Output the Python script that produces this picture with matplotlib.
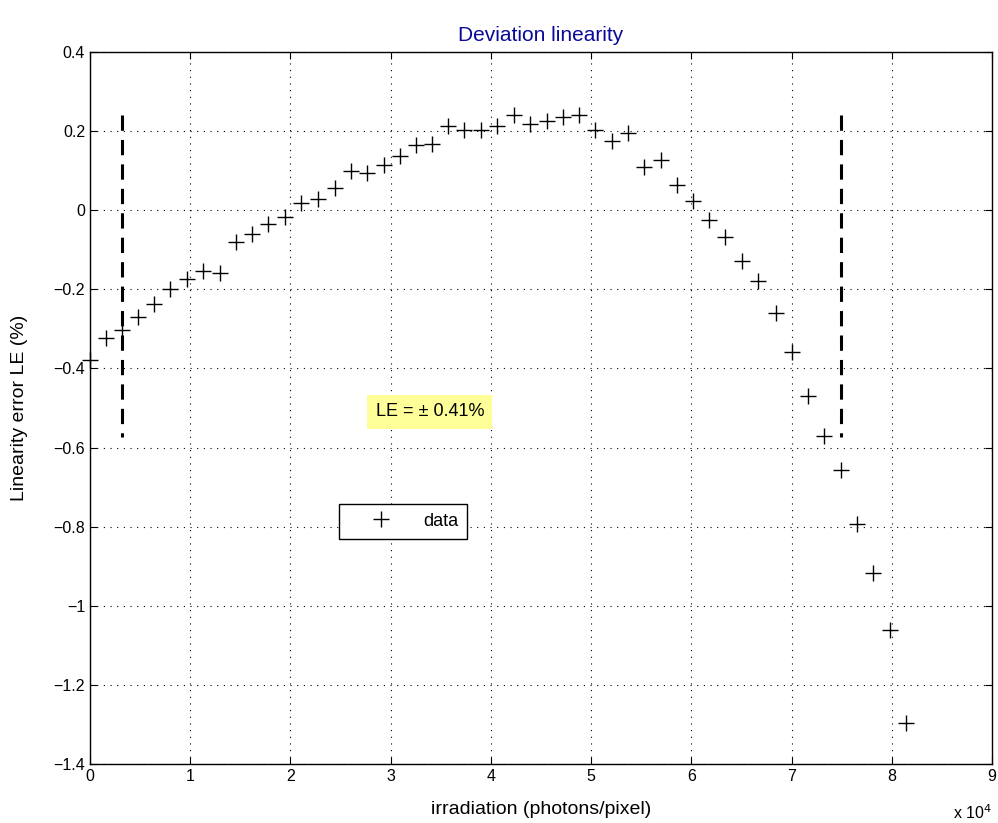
import matplotlib
matplotlib.use("Agg")
import matplotlib.pyplot as plt
from matplotlib.ticker import FuncFormatter, MultipleLocator

plt.rcParams['font.family'] = ['Liberation Sans', 'DejaVu Sans']

# irradiation (photons/pixel)
irradiation = [0, 1570, 3200, 4800, 6400, 8000, 9650, 11300, 13000, 14570,
               16170, 17800, 19460, 21100, 22700, 24400, 26000, 27600, 29300, 30900,
               32500, 34100, 35760, 37350, 39000, 40650, 42300, 43900, 45600, 47200,
               48800, 50400, 52100, 53700, 55300, 57000, 58600, 60200, 61800, 63400,
               65100, 66700, 68400, 70000, 71600, 73200, 74900, 76500, 78100, 79800,
               81400]
# linearity error (%)
lin_error = [-0.379, -0.322, -0.303, -0.269, -0.238, -0.198, -0.175, -0.154, -0.158, -0.080,
             -0.061, -0.036, -0.018, 0.019, 0.029, 0.056, 0.098, 0.094, 0.114, 0.136,
             0.164, 0.168, 0.212, 0.204, 0.204, 0.213, 0.240, 0.219, 0.226, 0.236,
             0.242, 0.204, 0.175, 0.195, 0.109, 0.128, 0.065, 0.024, -0.024, -0.067,
             -0.129, -0.178, -0.261, -0.358, -0.469, -0.571, -0.657, -0.794, -0.918, -1.061,
             -1.296]

bound_x = [3200, 74900]
bound_y = [0.24, -0.573]
le_value = 0.41

fig = plt.figure(figsize=(9.98, 8.23), dpi=100)
ax = fig.add_axes([0.0902, 0.0717, 0.9038, 0.8651])

ax.plot(irradiation, lin_error, linestyle='none', marker='+', color='black',
        markersize=12, markeredgewidth=1.0, label='data', clip_on=False, zorder=3)
for bx in bound_x:
    ax.plot([bx, bx], bound_y, color='black', linestyle=(0, (5, 3)), linewidth=2.2)

ax.set_xlim(0, 90000)
ax.set_ylim(-1.4, 0.4)
ax.xaxis.set_major_locator(MultipleLocator(10000))
ax.yaxis.set_major_locator(MultipleLocator(0.2))
ax.xaxis.set_major_formatter(FuncFormatter(lambda v, p: f"{v/1e4:g}"))
ax.yaxis.set_major_formatter(FuncFormatter(lambda v, p: ("\u2212" if v < -1e-9 else "") + f"{abs(v):g}"))
ax.grid(True, color='black', linestyle=(0, (1, 5)), linewidth=0.8)
ax.tick_params(direction='in', top=True, right=True, labelsize=11.5, length=5, width=0.8)
for s in ax.spines.values():
    s.set_linewidth(1.0)

ax.set_title('Deviation linearity', color='#0a0a99', fontsize=15, pad=8)
ax.set_xlabel('irradiation (photons/pixel)', fontsize=14, labelpad=12)
ax.set_ylabel('Linearity error LE (%)', fontsize=14, labelpad=18)
ax.text(1.0, -0.055, r'x 10$^4$', transform=ax.transAxes, ha='right', va='top', fontsize=11.5)

ax.text(33900, -0.51, f"LE = \u00b1 {le_value}%", ha='center', va='center', fontsize=13,
        bbox=dict(boxstyle='square,pad=0.45', facecolor='#ffff99', edgecolor='none'))

leg = ax.legend(loc='center', bbox_to_anchor=(0.347, 0.341), fontsize=13, frameon=True,
                fancybox=False, edgecolor='black', framealpha=1, borderpad=0.5,
                handlelength=3.7, handletextpad=0.45)
leg.get_frame().set_linewidth(1.0)

fig.savefig('out.png', dpi=100)
